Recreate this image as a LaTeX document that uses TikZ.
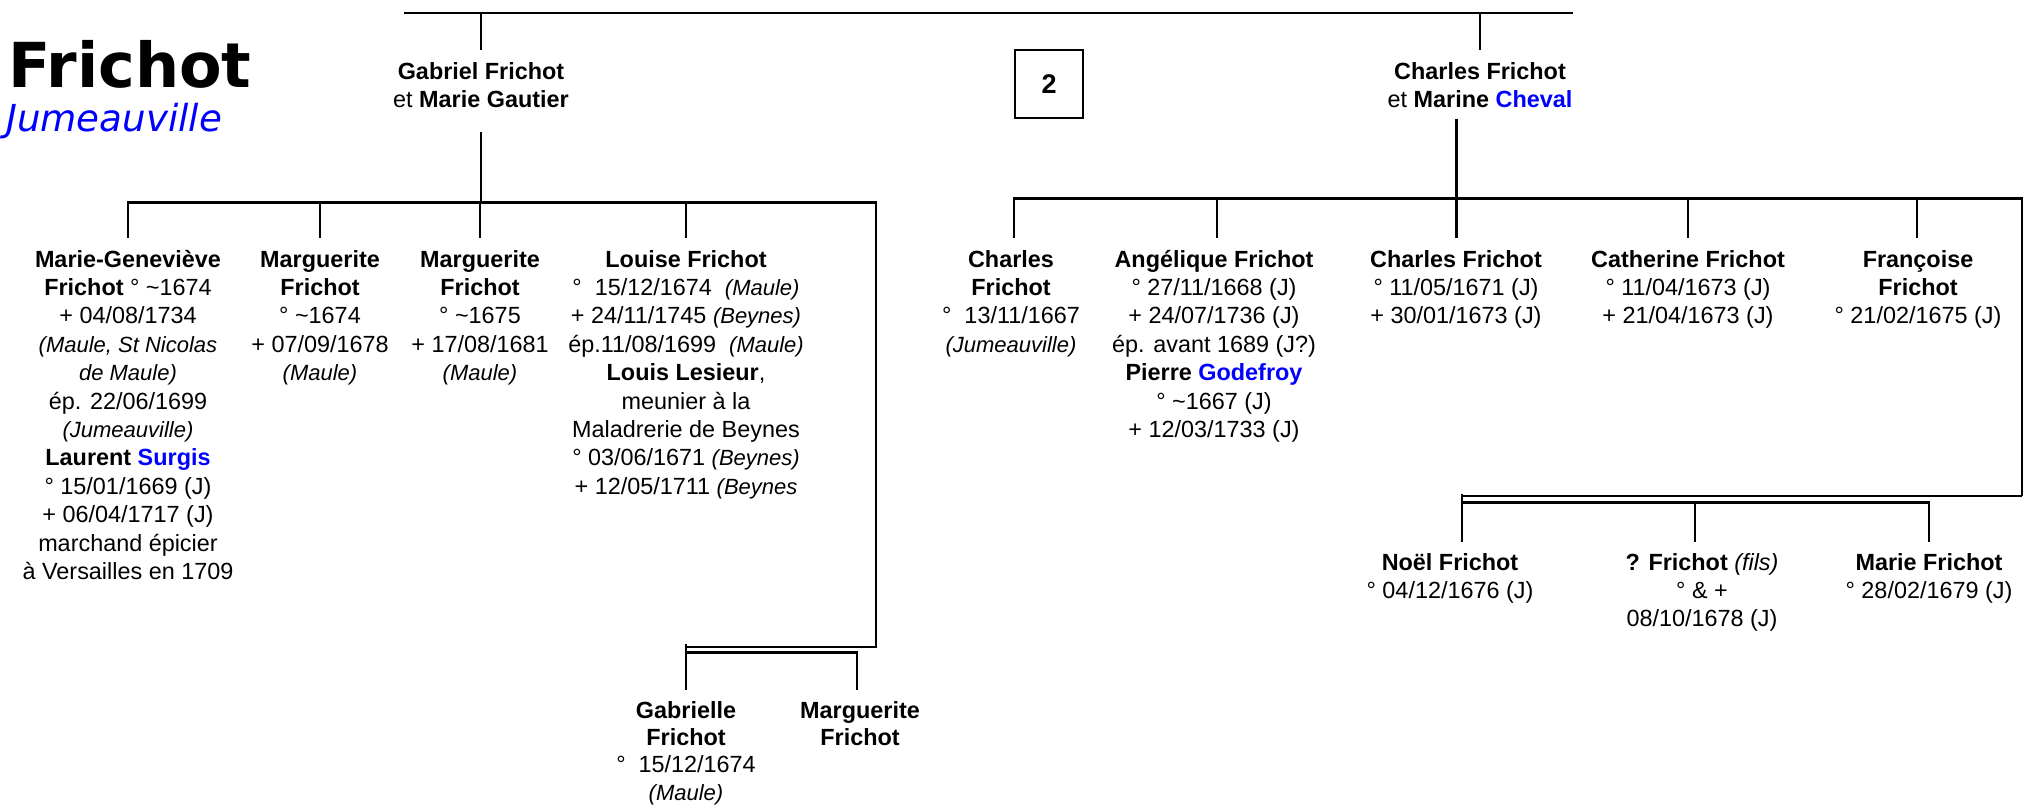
\documentclass[tikz,border=0pt]{standalone}
\usepackage{fontspec}
\setmainfont{Liberation Sans}
\newfontfamily\titlefont{DejaVu Sans}
\usetikzlibrary{calc}
\definecolor{nameblue}{RGB}{0,0,255}
\newcommand{\fsz}{\fontsize{23.4}{28.4}\selectfont}
\newcommand{\pl}[1]{{\fontsize{22}{28.4}\selectfont\itshape #1}}
\newcommand{\nm}[1]{\textbf{#1}}
\newcommand{\bl}[1]{\textcolor{nameblue}{\textbf{#1}}}
\newcommand{\tld}{\textasciitilde}
\begin{document}
\begin{tikzpicture}[x=1pt,y=-1pt,
  person/.style={anchor=north,inner sep=0pt,align=center,font=\fsz},
  link/.style={line width=2.8pt,line cap=rect},
  toplink/.style={line width=2.4pt},
  midlink/.style={line width=2.3pt},
  edgelink/.style={line width=1.6pt},
  boxstyle/.style={draw,line width=1.3pt,minimum width=68pt,minimum height=68pt,inner sep=0pt,font=\bfseries\fontsize{27}{30}\selectfont}]
\useasboundingbox (0,0) rectangle (2023,806);
% title
\node[anchor=base west,inner sep=0pt,font=\titlefont\bfseries\fontsize{62}{70}\selectfont] (title) at (8,87) {Frichot};
\node[anchor=base west,inner sep=0pt,text=nameblue,font=\titlefont\itshape\fontsize{37.2}{40}\selectfont] (place) at (6,131.7) {Jumeauville};
\node[boxstyle] (box2) at (1049,84) {2};
% parents
\node[person] (gab) at (481,59.1) {\strut\nm{Gabriel Frichot}\\et \nm{Marie Gautier}};
\node[person] (cha) at (1480,59.1) {\strut\nm{Charles Frichot}\\et \nm{Marine} \bl{Cheval}};
% left children
\node[person] (mg) at (128,247.1) {\strut\nm{Marie-Geneviève}\\\nm{Frichot} ° \tld1674\\+ 04/08/1734\\\pl{(Maule, St Nicolas}\\\pl{de Maule)}\\ép. 22/06/1699\\\pl{(Jumeauville)}\\\nm{Laurent} \bl{Surgis}\\° 15/01/1669 (J)\\+ 06/04/1717 (J)\\marchand épicier\\à Versailles en 1709};
\node[person] (mg1) at (320,247.1) {\strut\nm{Marguerite}\\\nm{Frichot}\\° \tld1674\\+ 07/09/1678\\\pl{(Maule)}};
\node[person] (mg2) at (480,247.1) {\strut\nm{Marguerite}\\\nm{Frichot}\\° \tld1675\\+ 17/08/1681\\\pl{(Maule)}};
\node[person] (lou) at (686,247.1) {\strut\nm{Louise Frichot}\\°\ \ 15/12/1674\ \ \pl{(Maule)}\\+ 24/11/1745 \pl{(Beynes)}\\ép.11/08/1699\ \ \pl{(Maule)}\\\nm{Louis Lesieur},\\meunier à la\\Maladrerie de Beynes\\° 03/06/1671 \pl{(Beynes)}\\+ 12/05/1711 \pl{(Beynes}};
\node[person] (gle) at (686,698.1) {\strut\nm{Gabrielle}\\[-1.1pt]\nm{Frichot}\\[-1.1pt]°\ \ 15/12/1674\\[-1.1pt]\pl{(Maule)}};
\node[person] (mg3) at (860,698.1) {\strut\nm{Marguerite}\\[-1.1pt]\nm{Frichot}};
% right children
\node[person] (ch1) at (1011,247.1) {\strut\nm{Charles}\\\nm{Frichot}\\°\ \ 13/11/1667\\\pl{(Jumeauville)}};
\node[person] (ang) at (1214,247.1) {\strut\nm{Angélique Frichot}\\° 27/11/1668 (J)\\+ 24/07/1736 (J)\\ép. avant 1689 (J?)\\\nm{Pierre} \bl{Godefroy}\\° \tld1667 (J)\\+ 12/03/1733 (J)};
\node[person] (ch2) at (1456,247.1) {\strut\nm{Charles Frichot}\\° 11/05/1671 (J)\\+ 30/01/1673 (J)};
\node[person] (cat) at (1688,247.1) {\strut\nm{Catherine Frichot}\\° 11/04/1673 (J)\\+ 21/04/1673 (J)};
\node[person] (fra) at (1918,247.1) {\strut\nm{Françoise}\\\nm{Frichot}\\° 21/02/1675 (J)};
\node[person] (noel) at (1450,550.1) {\strut\nm{Noël Frichot}\\° 04/12/1676 (J)};
\node[person] (fils) at (1702,550.1) {\strut\nm{? Frichot} \textit{(fils)}\\° \& +\\08/10/1678 (J)};
\node[person] (marie) at (1929,550.1) {\strut\nm{Marie Frichot}\\° 28/02/1679 (J)};
% connectors: top
\coordinate (topL) at (404,13);
\coordinate (topR) at (1573,13);
\draw[toplink] (topL) -- (topR);
\draw[link] (topL -| gab.north) -- ($(gab.north)+(0,-11)$);
\draw[link] (topL -| cha.north) -- ($(cha.north)+(0,-11)$);
% left family
\coordinate (gabD) at (481,133);
\coordinate (lbarL) at (128,202.5);
\coordinate (lbarR) at (876,202.5);
\coordinate (lcorner) at (876,647);
\coordinate (sbarR) at (857,652.7);
\draw[link] (gabD) -- (gabD |- lbarL);
\draw[link] ($(mg.north)+(0,-11)$) -- (mg.north |- lbarL) -- (lbarR) -- (lcorner) -- (lcorner -| gle.north);
\foreach \n in {mg1,mg2,lou} \draw[link] (\n.north |- lbarL) -- ($(\n.north)+(0,-11)$);
\draw[link] ($(gle.north)+(0,-53)$) -- ($(gle.north)+(0,-10)$);
\draw[link] (gle.north |- sbarR) -- (sbarR) -- ($(sbarR |- mg3.north)+(0,-10)$);
% right family
\coordinate (chaD) at (1456.6,120.7);
\coordinate (rbarL) at (1014,198.5);
\coordinate (rbarR) at (2022,198.5);
\coordinate (angT) at (1217,198.5);
\coordinate (catT) at (1688,198.5);
\coordinate (fraT) at (1917,198.5);
\coordinate (rcorner) at (2022,495.7);
\coordinate (r2L) at (1462,495.7);
\coordinate (r3R) at (1929,502.7);
\coordinate (filsT) at (1695,502.7);
\draw[link] (chaD) -- ($(chaD |- ch2.north)+(0,-11)$);
\draw[link] ($(rbarL |- ch1.north)+(0,-11)$) -- (rbarL) -- (rbarR);
\draw[link] (angT) -- ($(angT |- ang.north)+(0,-11)$);
\draw[link] (catT) -- ($(catT |- cat.north)+(0,-11)$);
\draw[link] (fraT) -- ($(fraT |- fra.north)+(0,-11)$);
\draw[edgelink] (rbarR) -- (rcorner);
\draw[midlink] (rcorner) -- (r2L);
\draw[link] (r2L) -- ($(r2L |- noel.north)+(0,-10)$);
\draw[link] (r2L |- r3R) -- (r3R) -- ($(r3R |- marie.north)+(0,-10)$);
\draw[link] (filsT) -- ($(filsT |- fils.north)+(0,-10)$);
\end{tikzpicture}
\end{document}
